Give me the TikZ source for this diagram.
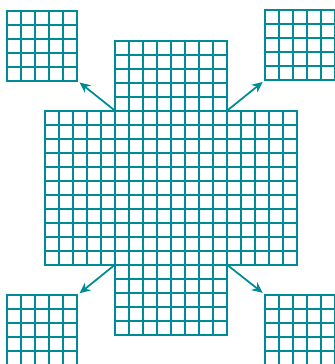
\documentclass[tikz,border=0pt]{standalone}
\usepackage{tikz}
\usetikzlibrary{arrows.meta,positioning}
\definecolor{gridteal}{RGB}{0,140,150}
% grid of #3 x #4 cells, top left corner at (#1,#2)
\newcommand{\cellgrid}[4]{%
 \foreach \i in {0,...,#3} \draw[gridline] ({#1+\i},#2) -- ({#1+\i},{#2+#4});
 \foreach \j in {0,...,#4} \draw[gridline] (#1,{#2+\j}) -- ({#1+#3},{#2+\j});}

\begin{document}
\begin{tikzpicture}[x=0.5cm,y=-0.5cm,>={Stealth[length=11pt,width=10pt]},
 gridline/.style={draw=gridteal,line width=2.1pt,line cap=rect},
 tile/.style={minimum width=2.5cm,minimum height=2.5cm,inner sep=0,outer sep=0,anchor=north west},
 link/.style={->,draw=gridteal,line width=1.8pt,shorten >=3pt}]
\useasboundingbox (0,0) rectangle (23.857,26);
\node[tile] (tl) at (0.52,0.76) {};
\node[tile] (tr) at (18.93,0.72) {};
\node[tile] (bl) at (0.52,21.08) {};
\node[tile] (br) at (18.93,21.05) {};
\cellgrid{0.52}{0.76}{5}{5}
\cellgrid{18.93}{0.72}{5}{5}
\cellgrid{0.52}{21.08}{5}{5}
\cellgrid{18.93}{21.05}{5}{5}
% the cross
\cellgrid{8.214}{2.907}{8}{21}
\cellgrid{3.214}{7.907}{18}{11}
\coordinate (c1) at (8.214,7.907);
\coordinate (c2) at (16.214,7.907);
\coordinate (c3) at (8.214,18.907);
\coordinate (c4) at (16.214,18.907);
\draw[link] (c1) -- (tl.south east);
\draw[link] (c2) -- (tr.south west);
\draw[link] (c3) -- (bl.north east);
\draw[link] (c4) -- (br.north west);
\end{tikzpicture}
\end{document}
